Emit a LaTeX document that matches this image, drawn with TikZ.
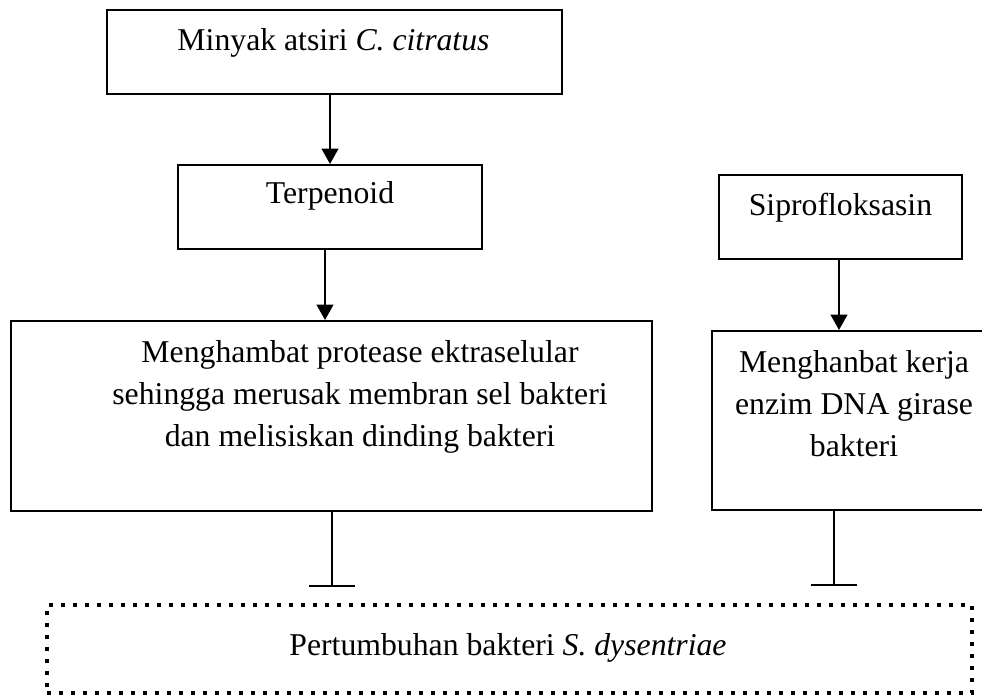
\documentclass[tikz,border=0pt]{standalone}
\usepackage{fontspec}
\setmainfont{Liberation Serif}
\usetikzlibrary{arrows.meta}
\begin{document}
\begin{tikzpicture}[x=0.75pt, y=-0.75pt,
        every node/.style={font=\fontsize{23.8}{31.5}\selectfont},
        kotak/.style={draw, line width=1.5pt, inner sep=0pt},
        teks/.style={inner sep=0pt, anchor=base, align=center},
        panah/.style={line width=1.5pt, -{Triangle[width=12.5pt, length=11.5pt]}},
        tahan/.style={line width=1.5pt, -{Bar[width=35pt, line width=1.5pt]}}]
        \useasboundingbox (0,0) rectangle (982,696);
        \clip (0,0) rectangle (982,696);
        % kotak-kotak
        \node[kotak, minimum width=341.25pt, minimum height=63pt] (minyak) at (334.5,52) {};
        \node[kotak, minimum width=228pt, minimum height=63pt] (terp) at (330,207) {};
        \node[kotak, minimum width=480.75pt, minimum height=142.5pt] (protease) at (331.5,416) {};
        \node[kotak, minimum width=182.25pt, minimum height=63pt] (sipro) at (840.5,217) {};
        \node[kotak, minimum width=213pt, minimum height=134.25pt] (girase) at (854,420.5) {};
        \node[draw, line width=3pt, dash pattern=on 3pt off 6pt, minimum width=693.75pt, minimum height=66pt] (tumbuh) at (509.5,649) {};
        % teks (base = baris terakhir)
        \node[teks] (minyakteks) at (333.5,50) {Minyak atsiri \textit{C. citratus}};
        \node[teks] (terpteks) at (330,203) {Terpenoid};
        \node[teks] (proteaseteks) at (360,446) {Menghambat protease ektraselular\\sehingga merusak membran sel bakteri\\dan melisiskan dinding bakteri};
        \node[teks] (siproteks) at (840.5,215) {Siprofloksasin};
        \node[teks] (giraseteks) at (854,456) {Menghanbat kerja\\enzim DNA girase\\bakteri};
        \node[teks] (tumbuhteks) at (508,655) {Pertumbuhan bakteri \textit{S. dysentriae}};
        % panah
        \draw[panah] (terp.north |- minyak.south) -- (terp.north);
        \draw[panah] ([xshift=-3.75pt]terp.south) -- ([xshift=-3.75pt]terp.south |- protease.north);
        \draw[panah] ([xshift=-1.125pt]sipro.south) -- ([xshift=-1.125pt]sipro.south |- girase.north);
        \coordinate (ujungkiri) at (332,587);
        \coordinate (ujungkanan) at (834,586);
        \draw[tahan] (protease.south -| ujungkiri) -- (ujungkiri);
        \draw[tahan] (girase.south -| ujungkanan) -- (ujungkanan);
\end{tikzpicture}
\end{document}
